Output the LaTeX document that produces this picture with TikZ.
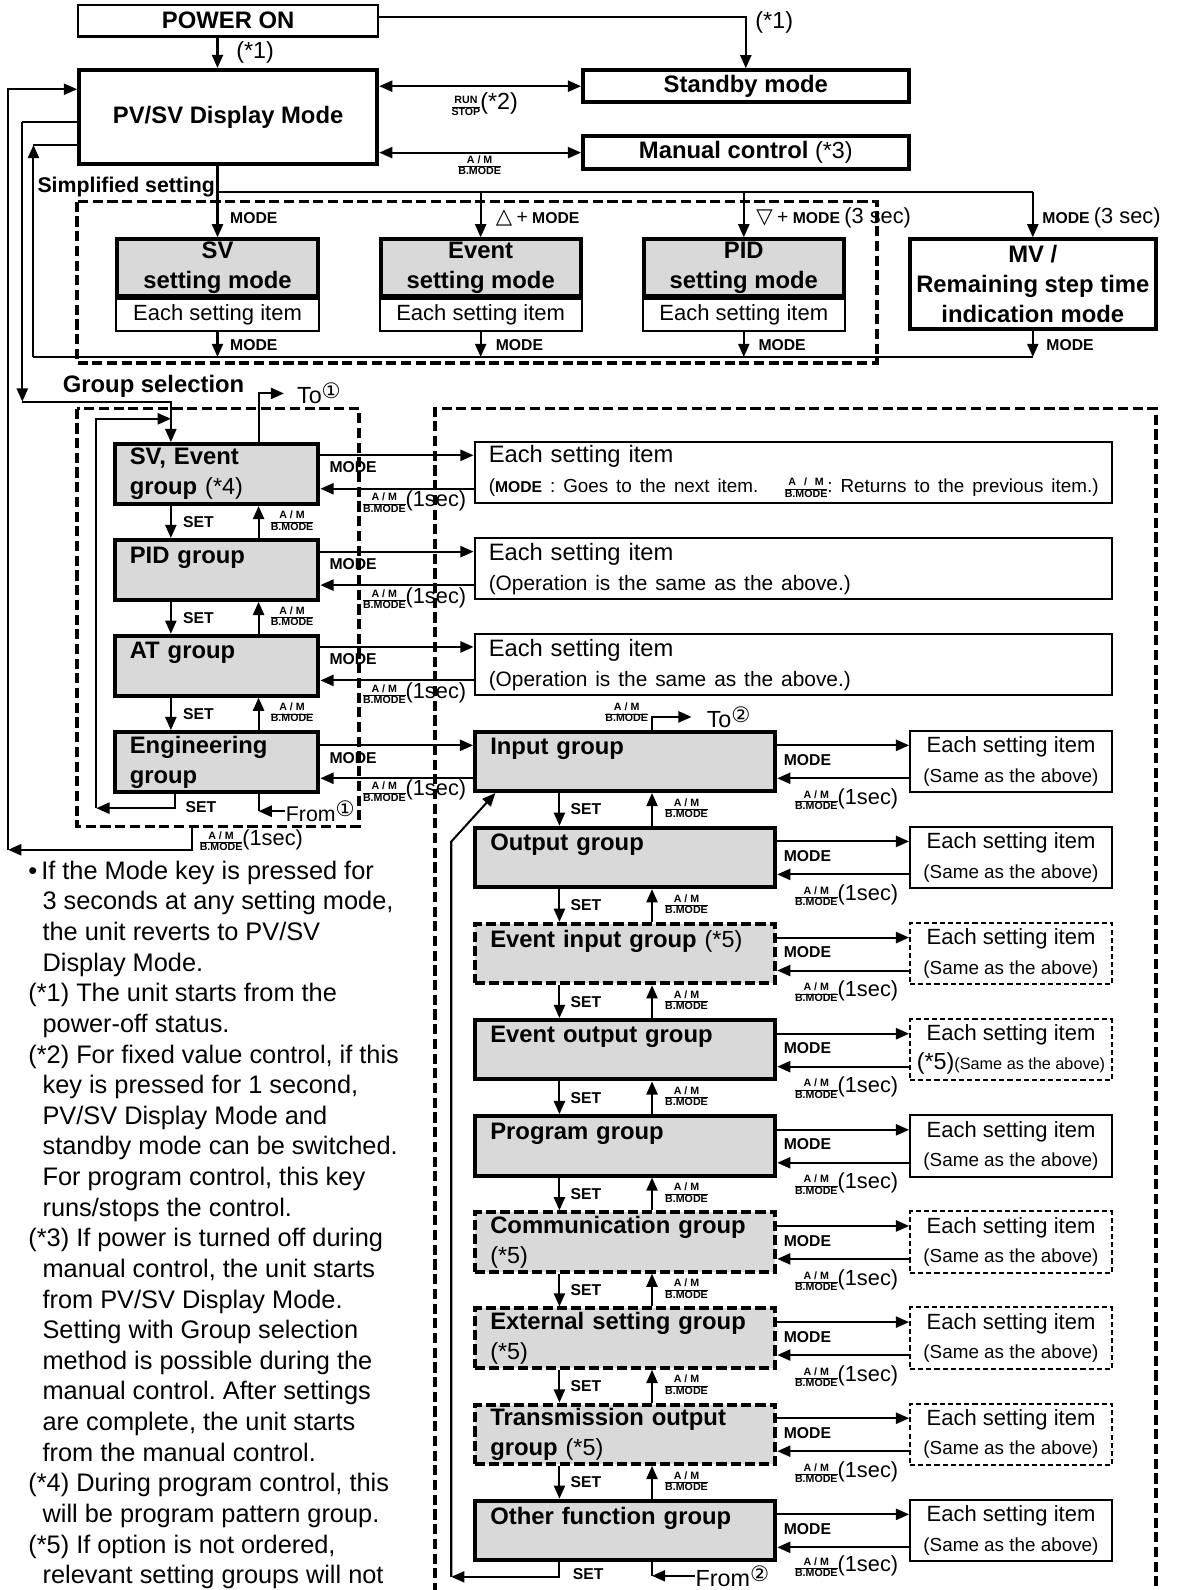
\documentclass[tikz,border=0pt]{standalone}
\usepackage{fontspec}
\setmainfont{Liberation Sans}
\newfontfamily\symfont{DejaVu Sans}
\usetikzlibrary{arrows.meta}
\frenchspacing

\newcommand{\hd}{\fontsize{23.5}{29.5}\selectfont\bfseries}
\newcommand{\kf}{\fontsize{15.5}{16}\selectfont\bfseries}
\newcommand{\fr}{\fontsize{10.5}{10.5}\selectfont\bfseries}
\newcommand{\rg}[1]{{\fontsize{23}{23}\selectfont\mdseries #1}}
\newcommand{\onesec}{{\fontsize{21.5}{22}\selectfont\mdseries (1sec)}}
\newcommand{\keyfrac}[2]{{\fr\setlength{\tabcolsep}{0pt}\setlength{\arrayrulewidth}{1pt}\renewcommand{\arraystretch}{0.9}\begin{tabular}{c}#1\\\hline #2\end{tabular}}}
\newcommand{\amkey}{\keyfrac{A / M}{B.MODE}}
\newcommand{\circnum}[1]{\raisebox{5pt}{\symfont\fontsize{21}{21}\selectfont #1}}
\newcommand{\ind}{\hspace*{14pt}}

\begin{document}
\begin{tikzpicture}[x=1pt, y=-1pt, line width=2pt, >={Triangle[length=13pt,width=11pt]},
  modebox/.style={draw, line width=4pt, inner sep=0pt, font=\hd, align=center},
  grpbox/.style={draw, line width=4pt, fill=black!15, inner xsep=15pt, inner ysep=0pt, font=\hd, align=left, text width=266pt, minimum height=58.5pt},
  optgrp/.style={grpbox, dash pattern=on 10pt off 4pt},
  itembox/.style={draw, line width=2pt, inner sep=0pt, align=center, font=\fontsize{21.7}{29}\selectfont, minimum width=199pt, minimum height=60.5pt},
  optitem/.style={itembox, dash pattern=on 5pt off 3pt},
  area/.style={line width=3.3pt, dash pattern=on 10pt off 4.5pt},
  keylbl/.style={inner sep=0pt, font=\kf},
  txt/.style={inner sep=0pt, font=\fontsize{23}{23}\selectfont},
]
\fill[white] (0,0) rectangle (1161,1568);
\useasboundingbox (0,0) rectangle (1161,1568);

% lanes
\coordinate (mainx) at (214.5,0);
\coordinate (la) at (8,0);
\coordinate (lb) at (22,0);
\coordinate (lc) at (33,0);
\coordinate (br) at (0,189);
\coordinate (ret) at (0,352);
\coordinate (gset) at (168.5,0);
\coordinate (eset) at (172.5,0);
\coordinate (gam) at (255,0);
\coordinate (rset) at (551.7,0);
\coordinate (ram) at (643,0);

% Power on and display modes
\node[draw, line width=2pt, inner sep=0pt, minimum width=296pt, minimum height=31pt, font=\hd] (pwr) at (225,20.5) {POWER ON};
\node[modebox, minimum width=294pt, minimum height=93pt] (pvsv) at (225,115.5) {PV/SV Display Mode};
\node[modebox, minimum width=321pt, minimum height=31.5pt] (stby) at (735.5,85) {Standby mode};
\node[modebox, minimum width=321pt, minimum height=32.5pt] (manu) at (735.5,150.5) {Manual control \rg{(*3)}};

\draw[->] (pwr.south -| mainx) -- (pvsv.north -| mainx);
\node[txt, anchor=west] (st1a) at (232,52) {(*1)};
\draw[->] (pwr.east |- 0,17) -| (stby.north);
\node[txt, anchor=west] (st1b) at (744,22) {(*1)};
\draw[<->] (pvsv.east |- stby.west) -- (stby.west);
\draw[<->] (pvsv.east |- manu.west) -- (manu.west);
\node[txt] (runkey) at (478,104) {\keyfrac{RUN}{STOP}\rg{(*2)}};
\node[txt] (amtop) at (473,164) {\amkey};

% Simplified setting
\node[txt, anchor=west, font=\fontsize{21}{21}\selectfont\bfseries] (simp) at (36,184) {Simplified setting};
\draw[area] (76,199) rectangle (865,358);
\node[modebox, fill=black!15, minimum width=198pt, minimum height=56pt] (svset) at (214.5,264) {SV\\setting mode};
\node[modebox, fill=black!15, minimum width=197pt, minimum height=56pt] (evset) at (474,264) {Event\\setting mode};
\node[modebox, fill=black!15, minimum width=197pt, minimum height=56pt] (pidset) at (733.5,264) {PID\\setting mode};
\node[itembox, minimum width=200pt, minimum height=31pt, anchor=north] (svitem) at (svset.south) {Each setting item};
\node[itembox, minimum width=199pt, minimum height=31pt, anchor=north] (evitem) at (evset.south) {Each setting item};
\node[itembox, minimum width=199pt, minimum height=31pt, anchor=north] (piditem) at (pidset.south) {Each setting item};
\node[modebox, minimum width=243pt, minimum height=88pt] (mvbox) at (1018.5,280) {MV /\\Remaining step time\\indication mode};

\draw[->] (pvsv.south -| mainx) -- (svset.north);
\draw (mainx |- br) -- (mvbox.north |- br);
\draw[->] (evset.north |- br) -- (evset.north);
\draw[->] (pidset.north |- br) -- (pidset.north);
\draw[->] (mvbox.north |- br) -- (mvbox.north);
\node[keylbl, anchor=west] (k1) at (226,215) {MODE};
\node[keylbl, anchor=west] (k2) at (488,215) {{\symfont\fontsize{21}{21}\selectfont △} {\mdseries\fontsize{19}{19}\selectfont +} MODE};
\node[keylbl, anchor=west] (k3) at (745,215) {{\symfont\fontsize{21}{21}\selectfont ▽} {\mdseries\fontsize{19}{19}\selectfont +} MODE {\fontsize{21.5}{22}\selectfont\mdseries(3 sec)}};
\node[keylbl, anchor=west] (k4) at (1027,215) {MODE {\fontsize{21.5}{22}\selectfont\mdseries(3 sec)}};

\draw[->] (svitem.south) -- (svitem.south |- ret);
\draw[->] (evitem.south) -- (evitem.south |- ret);
\draw[->] (piditem.south) -- (piditem.south |- ret);
\draw[->] (mvbox.south) -- (mvbox.south |- ret);
\node[keylbl, anchor=west] (k5) at (226,340) {MODE};
\node[keylbl, anchor=west] (k6) at (488,340) {MODE};
\node[keylbl, anchor=west] (k7) at (747,340) {MODE};
\node[keylbl, anchor=west] (k8) at (1031,340) {MODE};
\draw (mvbox.south |- ret) -- (lc |- ret);
\draw[->] (lc |- ret) -- (lc |- 0,143);
\draw (lc |- 0,143) -- (pvsv.west |- 0,143);

% Group selection
\draw[area] (76,403) rectangle (354,815);
\draw[area] (429,1600) -- (429,403) -- (1140,403) -- (1140,1600);
\node[txt, anchor=west, font=\hd] (gsel) at (61,381) {Group selection};
\draw (pvsv.west |- 0,120) -- (lb |- 0,120);
\draw[->] (lb |- 0,120) -- (lb |- 0,396);
\node[grpbox, text width=171pt, minimum height=59pt] (gsv) at (213.5,467.5) {SV, Event\\group \rg{(*4)}};
\node[grpbox, text width=171pt, minimum height=59pt] (gpid) at (213.5,562) {PID group\\\mbox{}};
\node[grpbox, text width=171pt, minimum height=59pt] (gat) at (213.5,656.5) {AT group\\\mbox{}};
\node[grpbox, text width=171pt, minimum height=59pt] (geng) at (213.5,751.5) {Engineering\\group};
\draw[->] (lb |- 0,396) -- (gset |- 0,396) -- (gsv.north -| gset);

\draw[->] (gsv.south -| gset) -- (gpid.north -| gset) node[keylbl, midway, right=11pt] (gs1) {SET};
\draw[->] (gpid.south -| gset) -- (gat.north -| gset) node[keylbl, midway, right=11pt] (gs2) {SET};
\draw[->] (gat.south -| gset) -- (geng.north -| gset) node[keylbl, midway, right=11pt] (gs3) {SET};
\draw[->] (gpid.north -| gam) -- (gsv.south -| gam) node[txt, midway, right=11pt] (ga1) {\amkey};
\draw[->] (gat.north -| gam) -- (gpid.south -| gam) node[txt, midway, right=11pt] (ga2) {\amkey};
\draw[->] (geng.north -| gam) -- (gat.south -| gam) node[txt, midway, right=11pt] (ga3) {\amkey};

\coordinate (lpc) at (95,797);
\draw[->] (geng.south -| eset) -- (eset |- lpc) -- (lpc);
\draw[->] (lpc) -- (lpc |- 0,413) -- (gset |- 0,413);
\node[keylbl, anchor=west] (gs4) at (182,796) {SET};
\node[txt, anchor=west, font=\fontsize{21}{21}\selectfont] (from1) at (281,800) {From\circnum{①}};
\draw[->] (from1.west) -- (gam |- from1.west);
\draw (gam |- from1.west) -- (geng.south -| gam);
\node[txt, anchor=west] (to1) at (292,388) {To\circnum{①}};
\draw[->] (gsv.north -| gam) |- ([xshift=-12pt]to1.west);

% back to PV/SV
\coordinate (gbot) at (189,815);
\draw[->] (gbot) -- (gbot |- 0,838) -- (la |- 0,838);
\draw[->] (la |- 0,838) -- (la |- 0,88) -- (pvsv.west |- 0,88);
\node[txt, anchor=west] (amret) at (196,830) {\amkey\onesec};

% Setting items of the first groups
\node[itembox, align=left, text width=601pt, inner xsep=14pt, minimum height=60pt, font=\fontsize{23.4}{29.5}\selectfont] (it1) at (782.5,466) {Each setting item\\\mbox{\fontsize{18.6}{20}\selectfont({\kf MODE} : Goes to the next item.\hspace{26pt}\amkey: Returns to the previous item.)}};
\node[itembox, align=left, text width=601pt, inner xsep=14pt, minimum height=60pt, font=\fontsize{23.4}{29.5}\selectfont] (it2) at (782.5,561) {Each setting item\\{\fontsize{20.6}{21}\selectfont(Operation is the same as the above.)}};
\node[itembox, align=left, text width=601pt, inner xsep=14pt, minimum height=60pt, font=\fontsize{23.4}{29.5}\selectfont] (it3) at (782.5,655.5) {Each setting item\\{\fontsize{20.6}{21}\selectfont(Operation is the same as the above.)}};

\draw[->] (gsv.east |- 0,449) -- (it1.west |- 0,449);
\draw[->] (it1.west |- 0,482) -- (gsv.east |- 0,482);
\node[keylbl, anchor=west] (gm1) at (324,461) {MODE};
\node[txt, anchor=west] (gb1) at (357,496) {\amkey\onesec};
\draw[->] (gpid.east |- 0,544) -- (it2.west |- 0,544);
\draw[->] (it2.west |- 0,577) -- (gpid.east |- 0,577);
\node[keylbl, anchor=west] (gm2) at (324,556) {MODE};
\node[txt, anchor=west] (gb2) at (357,591) {\amkey\onesec};
\draw[->] (gat.east |- 0,638) -- (it3.west |- 0,638);
\draw[->] (it3.west |- 0,671) -- (gat.east |- 0,671);
\node[keylbl, anchor=west] (gm3) at (324,650) {MODE};
\node[txt, anchor=west] (gb3) at (357,685) {\amkey\onesec};

% Right column groups
\node[grpbox] (gin) at (616.5,750.8) {Input group\\\mbox{}};
\node[grpbox] (gout) at (616.5,845.6) {Output group\\\mbox{}};
\node[optgrp] (gevin) at (616.5,940.4) {Event input group \rg{(*5)}\\\mbox{}};
\node[grpbox] (gevout) at (616.5,1035.2) {Event output group\\\mbox{}};
\node[grpbox] (gprog) at (616.5,1130) {Program group\\\mbox{}};
\node[optgrp] (gcom) at (616.5,1224.8) {Communication group\\\rg{(*5)}};
\node[optgrp] (gext) at (616.5,1319.6) {External setting group\\\rg{(*5)}};
\node[optgrp] (gtrans) at (616.5,1414.4) {Transmission output\\group \rg{(*5)}};
\node[grpbox] (goth) at (616.5,1509.2) {Other function group\\\mbox{}};

\node[itembox] (iin) at (997,750.8) {Each setting item\\{\fontsize{18.6}{19}\selectfont(Same as the above)}};
\node[itembox] (iout) at (997,845.6) {Each setting item\\{\fontsize{18.6}{19}\selectfont(Same as the above)}};
\node[optitem] (ievin) at (997,940.4) {Each setting item\\{\fontsize{18.6}{19}\selectfont(Same as the above)}};
\node[optitem] (ievout) at (997,1035.2) {Each setting item\\\rg{(*5)}{\fontsize{16}{16}\selectfont(Same as the above)}};
\node[itembox] (iprog) at (997,1130) {Each setting item\\{\fontsize{18.6}{19}\selectfont(Same as the above)}};
\node[optitem] (icom) at (997,1224.8) {Each setting item\\{\fontsize{18.6}{19}\selectfont(Same as the above)}};
\node[optitem] (iext) at (997,1319.6) {Each setting item\\{\fontsize{18.6}{19}\selectfont(Same as the above)}};
\node[optitem] (itrans) at (997,1414.4) {Each setting item\\{\fontsize{18.6}{19}\selectfont(Same as the above)}};
\node[itembox] (ioth) at (997,1509.2) {Each setting item\\{\fontsize{18.6}{19}\selectfont(Same as the above)}};

% engineering <-> input
\draw[->] (geng.east |- 0,735) -- (gin.west |- 0,735);
\draw[->] (gin.west |- 0,767.5) -- (geng.east |- 0,767.5);
\node[keylbl, anchor=west] (gm4) at (324,748) {MODE};
\node[txt, anchor=west] (gb4) at (357,781) {\amkey\onesec};

% group <-> items
\draw[->] (gin.east |- 0,735) -- (iin.west |- 0,735);
\draw[->] (iin.west |- 0,767.5) -- (gin.east |- 0,767.5);
\node[keylbl, anchor=west] (rm0) at (772,749.5) {MODE};
\node[txt, anchor=west] (rb0) at (783,789.5) {\amkey\onesec};
\draw[->] (gout.east |- 0,829.8) -- (iout.west |- 0,829.8);
\draw[->] (iout.west |- 0,862.3) -- (gout.east |- 0,862.3);
\node[keylbl, anchor=west] (rm1) at (772,844.3) {MODE};
\node[txt, anchor=west] (rb1) at (783,884.3) {\amkey\onesec};
\draw[->] (gevin.east |- 0,924.6) -- (ievin.west |- 0,924.6);
\draw[->] (ievin.west |- 0,957.1) -- (gevin.east |- 0,957.1);
\node[keylbl, anchor=west] (rm2) at (772,939.1) {MODE};
\node[txt, anchor=west] (rb2) at (783,979.1) {\amkey\onesec};
\draw[->] (gevout.east |- 0,1019.4) -- (ievout.west |- 0,1019.4);
\draw[->] (ievout.west |- 0,1051.9) -- (gevout.east |- 0,1051.9);
\node[keylbl, anchor=west] (rm3) at (772,1033.9) {MODE};
\node[txt, anchor=west] (rb3) at (783,1073.9) {\amkey\onesec};
\draw[->] (gprog.east |- 0,1114.2) -- (iprog.west |- 0,1114.2);
\draw[->] (iprog.west |- 0,1146.7) -- (gprog.east |- 0,1146.7);
\node[keylbl, anchor=west] (rm4) at (772,1128.7) {MODE};
\node[txt, anchor=west] (rb4) at (783,1168.7) {\amkey\onesec};
\draw[->] (gcom.east |- 0,1209) -- (icom.west |- 0,1209);
\draw[->] (icom.west |- 0,1241.5) -- (gcom.east |- 0,1241.5);
\node[keylbl, anchor=west] (rm5) at (772,1223.5) {MODE};
\node[txt, anchor=west] (rb5) at (783,1263.5) {\amkey\onesec};
\draw[->] (gext.east |- 0,1303.8) -- (iext.west |- 0,1303.8);
\draw[->] (iext.west |- 0,1336.3) -- (gext.east |- 0,1336.3);
\node[keylbl, anchor=west] (rm6) at (772,1318.3) {MODE};
\node[txt, anchor=west] (rb6) at (783,1358.3) {\amkey\onesec};
\draw[->] (gtrans.east |- 0,1398.6) -- (itrans.west |- 0,1398.6);
\draw[->] (itrans.west |- 0,1431.1) -- (gtrans.east |- 0,1431.1);
\node[keylbl, anchor=west] (rm7) at (772,1413.1) {MODE};
\node[txt, anchor=west] (rb7) at (783,1453.1) {\amkey\onesec};
\draw[->] (goth.east |- 0,1493.4) -- (ioth.west |- 0,1493.4);
\draw[->] (ioth.west |- 0,1525.9) -- (goth.east |- 0,1525.9);
\node[keylbl, anchor=west] (rm8) at (772,1507.9) {MODE};
\node[txt, anchor=west] (rb8) at (783,1546) {\amkey\onesec};

% SET down, A/M up
\draw[->] (gin.south -| rset) -- (gout.north -| rset) node[keylbl, midway, right=10pt] (rs0) {SET};
\draw[->] (gout.south -| rset) -- (gevin.north -| rset) node[keylbl, midway, right=10pt] (rs1) {SET};
\draw[->] (gevin.south -| rset) -- (gevout.north -| rset) node[keylbl, midway, right=10pt] (rs2) {SET};
\draw[->] (gevout.south -| rset) -- (gprog.north -| rset) node[keylbl, midway, right=10pt] (rs3) {SET};
\draw[->] (gprog.south -| rset) -- (gcom.north -| rset) node[keylbl, midway, right=10pt] (rs4) {SET};
\draw[->] (gcom.south -| rset) -- (gext.north -| rset) node[keylbl, midway, right=10pt] (rs5) {SET};
\draw[->] (gext.south -| rset) -- (gtrans.north -| rset) node[keylbl, midway, right=10pt] (rs6) {SET};
\draw[->] (gtrans.south -| rset) -- (goth.north -| rset) node[keylbl, midway, right=10pt] (rs7) {SET};
\draw[->] (gout.north -| ram) -- (gin.south -| ram) node[txt, midway, right=12pt] (ra0) {\amkey};
\draw[->] (gevin.north -| ram) -- (gout.south -| ram) node[txt, midway, right=12pt] (ra1) {\amkey};
\draw[->] (gevout.north -| ram) -- (gevin.south -| ram) node[txt, midway, right=12pt] (ra2) {\amkey};
\draw[->] (gprog.north -| ram) -- (gevout.south -| ram) node[txt, midway, right=12pt] (ra3) {\amkey};
\draw[->] (gcom.north -| ram) -- (gprog.south -| ram) node[txt, midway, right=12pt] (ra4) {\amkey};
\draw[->] (gext.north -| ram) -- (gcom.south -| ram) node[txt, midway, right=12pt] (ra5) {\amkey};
\draw[->] (gtrans.north -| ram) -- (gext.south -| ram) node[txt, midway, right=12pt] (ra6) {\amkey};
\draw[->] (goth.north -| ram) -- (gtrans.south -| ram) node[txt, midway, right=12pt] (ra7) {\amkey};

% To 2 / From 2
\node[txt] (ra9) at (618,704) {\amkey};
\node[txt, anchor=west] (to2) at (696,707) {To\circnum{②}};
\draw[->] (gin.north -| ram) |- ([xshift=-14pt]to2.west);
\coordinate (rl) at (445,1555);
\draw[->] (goth.south -| rset) -- (rset |- rl) -- (rl);
\draw[->] (rl) -- (445,830) -- ([xshift=22pt]gin.south west);
\node[keylbl, anchor=west] (rs8) at (564,1552) {SET};
\node[txt, anchor=west] (from2) at (685,1554) {From\circnum{②}};
\draw[->] (from2.west) -- (ram |- from2.west);
\draw (ram |- from2.west) -- (goth.south -| ram);

% Notes
\node[anchor=north west, inner sep=0pt, align=left, font=\fontsize{25}{30.2}\selectfont] (notes) at (27,848) {%
\textbullet\hspace{4pt}If the Mode key is pressed for\\
\ind 3 seconds at any setting mode,\\
\ind the unit reverts to PV/SV\\
\ind Display Mode.\\
(*1) The unit starts from the\\
\ind power-off status.\\
(*2) For fixed value control, if this\\
\ind key is pressed for 1 second,\\
\ind PV/SV Display Mode and\\
\ind standby mode can be switched.\\
\ind For program control, this key\\
\ind runs/stops the control.\\
(*3) If power is turned off during\\
\ind manual control, the unit starts\\
\ind from PV/SV Display Mode.\\
\ind Setting with Group selection\\
\ind method is possible during the\\
\ind manual control. After settings\\
\ind are complete, the unit starts\\
\ind from the manual control.\\
(*4) During program control, this\\
\ind will be program pattern group.\\
(*5) If option is not ordered,\\
\ind relevant setting groups will not};
\end{tikzpicture}
\end{document}
